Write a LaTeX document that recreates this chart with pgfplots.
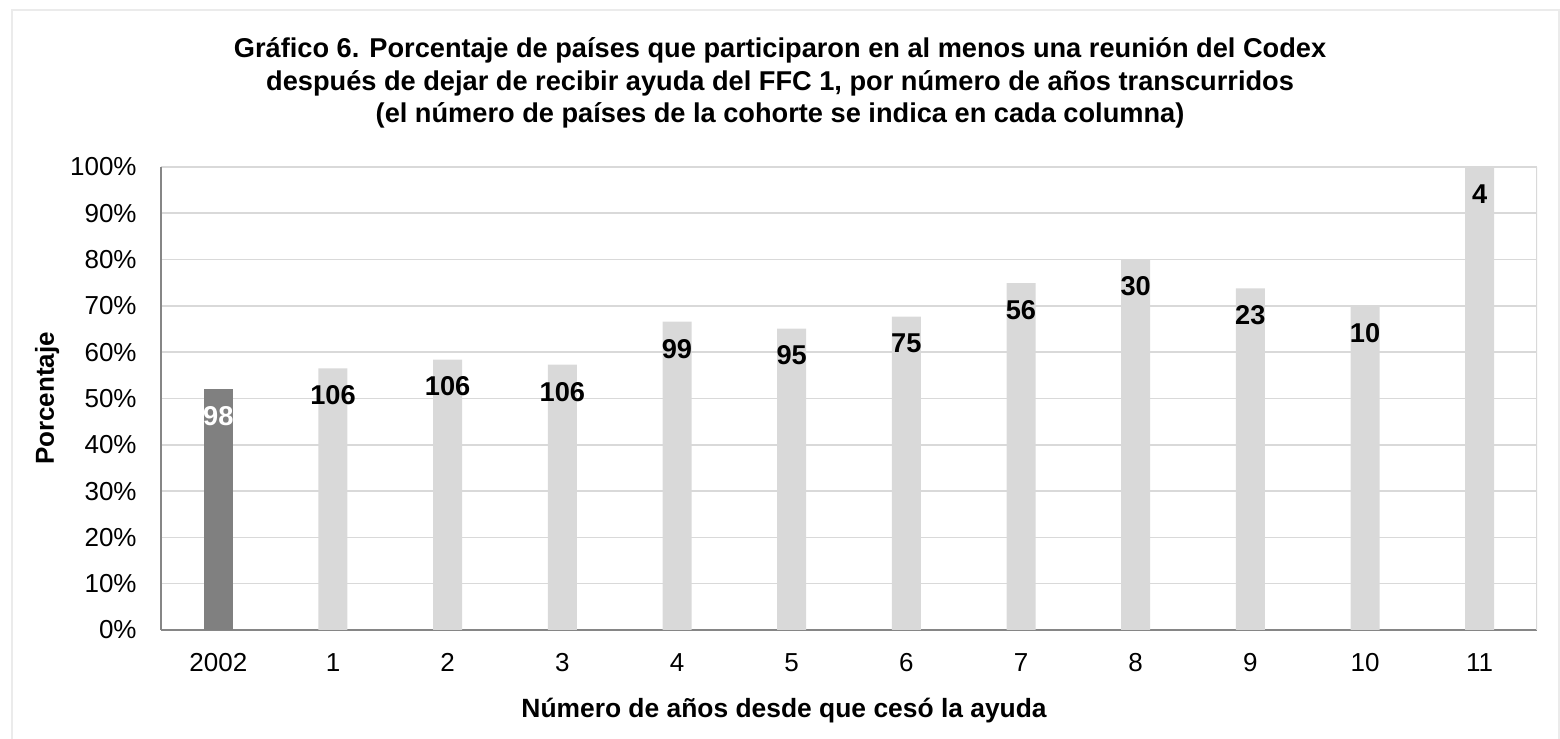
\documentclass[border=0pt]{standalone}
\usepackage{pgfplots}
\pgfplotsset{compat=1.18}
\usepackage{pgfplotstable}
\usepackage{fontspec}
\setmainfont{Liberation Sans}
\definecolor{darkbar}{HTML}{808080}
\definecolor{lightbar}{HTML}{D9D9D9}
\definecolor{gridc}{HTML}{D9D9D9}
\definecolor{axisc}{HTML}{868686}
\definecolor{framec}{HTML}{EBEBEB}
\pgfplotstableread{
x y n
0 52.0 98
}\firstbar
\pgfplotstableread{
x y n
1 56.5 106
2 58.4 106
3 57.3 106
4 66.6 99
5 65.1 95
6 67.7 75
7 74.9 56
8 80.0 30
9 73.8 23
10 69.9 10
11 100 4
}\otherbars
\begin{document}
\begin{tikzpicture}
\useasboundingbox (-80.5pt,-54.5pt) rectangle (699.5pt,315pt);
\draw[framec, line width=1pt] (-74.5pt,-60pt) -- (-74.5pt,310pt) -- (699pt,310pt) -- (699pt,-60pt);
\begin{axis}[
  at={(0pt,0pt)}, anchor=south west,
  scale only axis, width=688pt, height=231.5pt,
  xmin=-0.5, xmax=11.5, ymin=0, ymax=100,
  ybar, bar width=14.5pt,
  /pgf/number format/assume math mode=true,
  xtick={0,...,11},
  xticklabels={2002,1,2,3,4,5,6,7,8,9,10,11},
  ytick={0,10,20,30,40,50,60,70,80,90,100},
  yticklabels={0\%,10\%,20\%,30\%,40\%,50\%,60\%,70\%,80\%,90\%,100\%},
  major tick length=0pt, tick style={draw=none},
  axis x line*=bottom, axis y line*=left,
  axis line style={axisc, line width=0.8pt, -},
  ymajorgrids, grid style={gridc, line width=0.8pt},
  tick label style={font=\fontsize{13}{15}\selectfont},
  xticklabel style={inner sep=0pt, anchor=north, yshift=-11.7pt},
  yticklabel style={inner sep=0pt, anchor=east, xshift=-12pt},
  title={Gráfico 6. Porcentaje de países que participaron en al menos una reunión del Codex\\después de dejar de recibir ayuda del FFC 1, por número de años transcurridos\\(el número de países de la cohorte se indica en cada columna)},
  title style={at={(axis description cs:0.4499,1.155)}, anchor=center, align=center, inner sep=0pt, font={\fontsize{13.6}{16.25}\selectfont\bfseries\lineskiplimit=-20pt}},
  xlabel={Número de años desde que cesó la ayuda},
  xlabel style={at={(axis description cs:0.4528,-0.19)}, anchor=base, inner sep=0pt, font=\fontsize{13.2}{15}\selectfont\bfseries},
  ylabel={Porcentaje},
  ylabel style={at={(axis description cs:-0.0828,0.5)}, anchor=center, inner sep=0pt, font=\fontsize{13}{15}\selectfont\bfseries},
  point meta=explicit,
  nodes near coords={\pgfmathprintnumber{\pgfplotspointmeta}},
  every node near coord/.append style={anchor=north, inner sep=0pt, yshift=-8.5pt, font=\fontsize{13.6}{15}\selectfont\bfseries},
]
\addplot[bar shift=0pt, fill=darkbar, draw=none, every node near coord/.append style={text=white}] table[x=x, y=y, meta=n] {\firstbar};
\addplot[bar shift=0pt, fill=lightbar, draw=none, every node near coord/.append style={text=black}] table[x=x, y=y, meta=n] {\otherbars};
\draw[gridc, line width=0.8pt] (rel axis cs:1,0) -- (rel axis cs:1,1);
\end{axis}
\end{tikzpicture}
\end{document}
